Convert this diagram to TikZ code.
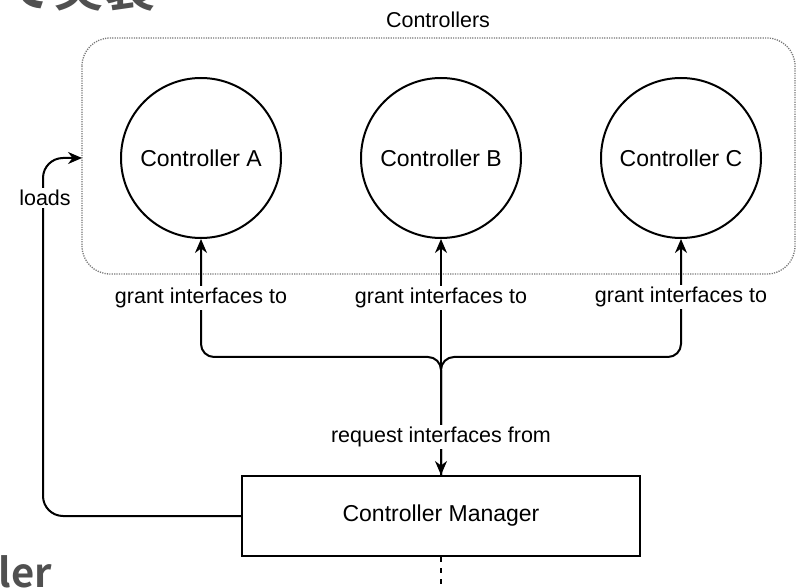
\documentclass[tikz,border=0pt]{standalone}
\usepackage{fontspec}
\setmainfont{Liberation Sans}
\newfontfamily\cjk{Noto Sans CJK JP}[BoldFont={Noto Sans CJK JP Bold}]
\usetikzlibrary{arrows.meta}
\definecolor{headgray}{HTML}{505050}
\definecolor{boxgray}{HTML}{777777}
\tikzset{
  ctrl/.style={circle, draw=black, line width=2pt, minimum size=160pt, inner sep=0pt, font=\fontsize{23}{27}\selectfont},
  mgr/.style={rectangle, draw=black, line width=2pt, minimum width=398pt, minimum height=80pt, inner sep=0pt, font=\fontsize{23}{27}\selectfont},
  lbl/.style={fill=white, inner sep=2pt, font=\fontsize{21.5}{25}\selectfont},
  conn/.style={line width=2pt, draw=black},
  tip/.style={-{Stealth[length=14pt,width=12pt]}},
  heading/.style={text=headgray, font=\cjk\bfseries}
}
\begin{document}
\begin{tikzpicture}[x=1pt,y=-1pt]
\useasboundingbox (0,0) rectangle (796,588);
\clip (0,0) rectangle (796,588);
\fill[white] (0,0) rectangle (796,588);

% cropped headings
\node[heading, anchor=base west, inner sep=0pt, font=\cjk\bfseries\fontsize{51}{55}\selectfont] (hjp) at (2,7) {で実装};
\node[heading, anchor=base east, inner sep=0pt, font=\cjk\bfseries\fontsize{40}{44}\selectfont] (hen) at (52,587) {Controller};

% Controllers group
\draw[boxgray, line width=1.3pt, dash pattern=on 1.2pt off 1.2pt, rounded corners=28pt] (82,38) rectangle (795,274);
\node[font=\fontsize{21.5}{25}\selectfont] (grp) at (438,20) {Controllers};
\coordinate (grpleft) at (82,158);

% circles
\node[ctrl] (A) at (201,158) {Controller A};
\node[ctrl] (B) at (441,158) {Controller B};
\node[ctrl] (C) at (681,158) {Controller C};

% manager
\node[mgr] (M) at (441,516) {Controller Manager};

% bus
\draw[conn, tip, rounded corners=13pt] (M.north) -- (441,357) -- (201,357) -- (A.south);
\draw[conn, tip, rounded corners=13pt] (M.north) -- (441,357) -- (681,357) -- (C.south);
\draw[conn, tip] (M.north) -- (B.south);
\draw[conn, tip] (B.south |- 0,330) -- (M.north);

\node[lbl] (la) at (201,298) {grant interfaces to};
\node[lbl] (lb) at (441,298) {grant interfaces to};
\node[lbl] (lc) at (681,297) {grant interfaces to};
\node[lbl] (lr) at (441,437) {request interfaces from};

% loads
\draw[conn, tip, rounded corners=20pt] (M.west) -- (43,516) -- (43,158) -- (grpleft);
\node[lbl] (ll) at (45,198) {loads};

% dashed continuation
\coordinate (down) at (441,600);
\draw[conn, dash pattern=on 5pt off 6pt] (M.south) -- (down);
\end{tikzpicture}
\end{document}
